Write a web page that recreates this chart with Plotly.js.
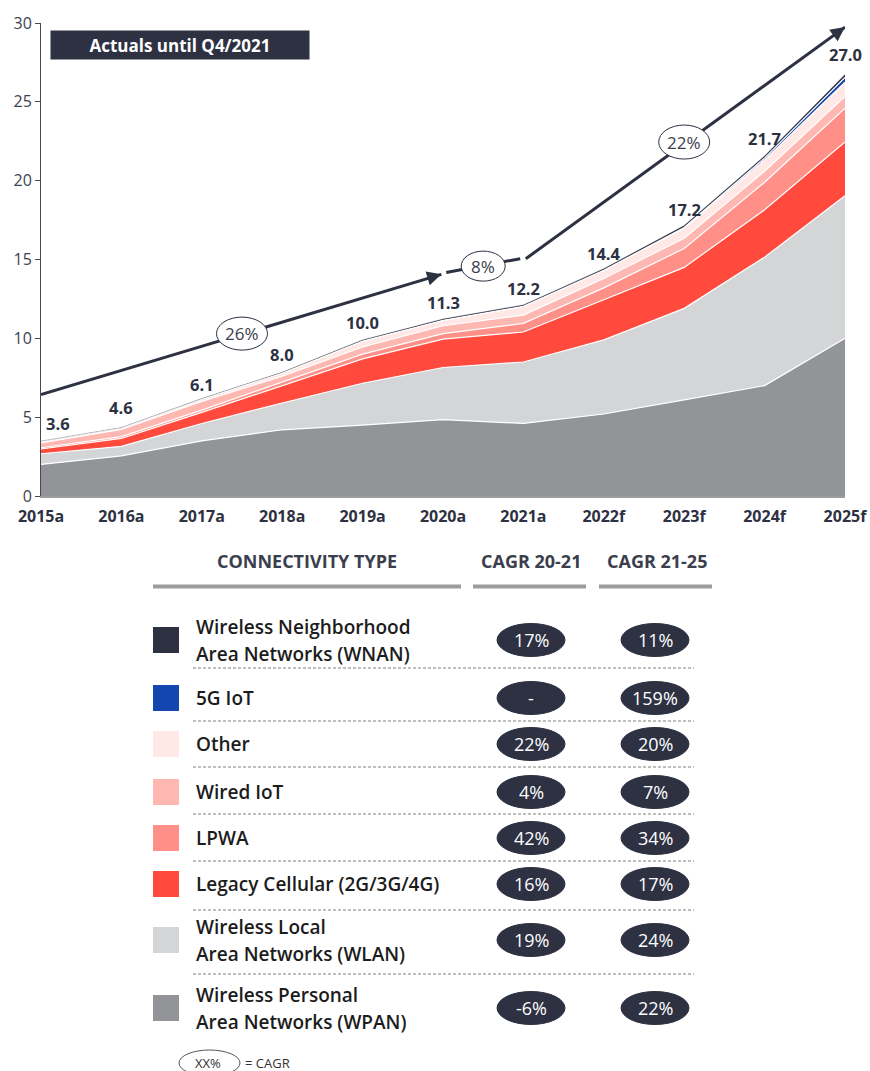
<!DOCTYPE html>
<html>
<head>
<meta charset="utf-8">
<script src="https://cdn.plot.ly/plotly-3.0.1.min.js"></script>
<style>
html,body{margin:0;padding:0;background:#fff;}
#chart{width:870px;height:1071px;}
</style>
</head>
<body>
<div id="chart"></div>
<script>
// ---------- DATA ----------
const years = ['2015a','2016a','2017a','2018a','2019a','2020a','2021a','2022f','2023f','2024f','2025f'];
// stacked layer values (bn connections), bottom to top
const wpan   = [2.0, 2.55, 3.5, 4.2, 4.5, 4.85, 4.6, 5.2, 6.1, 7.0, 10.0];
const wlan   = [0.68, 0.6, 1.1, 1.7, 2.65, 3.3, 3.9, 4.7, 5.8, 8.15, 9.05];
const legacy = [0.3, 0.5, 0.7, 1.1, 1.55, 1.8, 1.9, 2.55, 2.6, 3.0, 3.4];
const lpwa   = [0.08, 0.12, 0.15, 0.2, 0.3, 0.35, 0.55, 0.75, 1.2, 1.75, 2.15];
const wired  = [0.3, 0.45, 0.55, 0.4, 0.45, 0.5, 0.52, 0.6, 0.65, 0.7, 0.75];
const other  = [0.1, 0.1, 0.15, 0.2, 0.37, 0.34, 0.55, 0.5, 0.63, 0.71, 0.9];
const g5     = [0, 0, 0, 0, 0, 0, 0.01, 0.02, 0.05, 0.12, 0.3];
const wnan   = [0.02, 0.02, 0.03, 0.05, 0.08, 0.08, 0.09, 0.1, 0.12, 0.14, 0.18];
const totalLabels = ['3.6','4.6','6.1','8.0','10.0','11.3','12.2','14.4','17.2','21.7','27.0'];

// CAGR trend arrows (x in year index, y in value)
const cagrX1 = [0, 4.98],  cagrY1 = [6.43, 14.06];
const cagrX2 = [5.04, 5.96], cagrY2 = [14.18, 15.05];
const cagrX3 = [6.03, 10], cagrY3 = [15.05, 29.74];
const cagrLabels = ['26%', '8%', '22%'];
const cagrLabelX = [2.5, 5.5, 8.0];
const cagrLabelY = [10.3, 14.58, 22.45];

// table
const typeLabels = [
  ['Wireless Neighborhood','Area Networks (WNAN)'],
  ['5G IoT'],
  ['Other'],
  ['Wired IoT'],
  ['LPWA'],
  ['Legacy Cellular (2G/3G/4G)'],
  ['Wireless Local','Area Networks (WLAN)'],
  ['Wireless Personal','Area Networks (WPAN)']
];
const cagr2021 = ['17%','-','22%','4%','42%','16%','19%','-6%'];
const cagr2125 = ['11%','159%','20%','7%','34%','17%','24%','22%'];
const tableHeaders = ['CONNECTIVITY TYPE', 'CAGR 20-21', 'CAGR 21-25'];

// ---------- STYLE ----------
const DARK = '#2d3142';
const layerColors = {
  wpan:'#939498', wlan:'#d4d5d7', legacy:'#ff4a3d', lpwa:'#ff8f87',
  wired:'#ffb7b1', other:'#ffe8e6', g5:'#1446b0', wnan:DARK
};
const tableColors = [DARK, '#1446b0', '#ffe9e7', '#ffb7b1', '#ff8f87', '#ff4a3d', '#d4d5d7', '#939498'];
const FONT = 'Open Sans, Noto Sans, sans-serif';

const W = 870, H = 1071;
const PL = 41, PR = 845, PT = 23, PB = 496;
const fx = px => (px - PL) / (PR - PL);
const fy = py => (PB - py) / (PB - PT);

const xIdx = years.map((_, i) => i);

function layer(name, y, color) {
  return {
    type: 'scatter', x: xIdx, y: y, name: name, stackgroup: 'one',
    mode: 'lines', line: {color: '#ffffff', width: 1.2, shape: 'linear'},
    fillcolor: color, hoverinfo: 'skip', showlegend: false
  };
}
const traces = [
  layer('WPAN', wpan, layerColors.wpan),
  layer('WLAN', wlan, layerColors.wlan),
  layer('Legacy Cellular', legacy, layerColors.legacy),
  layer('LPWA', lpwa, layerColors.lpwa),
  layer('Wired IoT', wired, layerColors.wired),
  layer('Other', other, layerColors.other),
  layer('5G IoT', g5, layerColors.g5),
  layer('WNAN', wnan, layerColors.wnan)
];
traces[7].line = {color: 'rgba(45,49,66,0.6)', width: 0.5};

[[cagrX1, cagrY1], [cagrX2, cagrY2], [cagrX3, cagrY3]].forEach(([xs, ys]) => {
  traces.push({type:'scatter', x: xs, y: ys, mode:'lines',
    line:{color: DARK, width: 3}, hoverinfo:'skip', showlegend:false, cliponaxis:false});
});

const annotations = [];
const shapes = [];

// arrowheads
[[cagrX1, cagrY1], [cagrX2, cagrY2], [cagrX3, cagrY3]].forEach(([xs, ys]) => {
  const f = 0.04;
  annotations.push({
    x: xs[1], y: ys[1], xref:'x', yref:'y',
    ax: xs[1] - f * (xs[1] - xs[0]), ay: ys[1] - f * (ys[1] - ys[0]),
    axref:'x', ayref:'y', showarrow:true, arrowhead:2, arrowsize:1.1,
    arrowwidth:2.6, arrowcolor: DARK, text:''
  });
});

// CAGR ellipses on chart
const cagrSizes = [[51, 33], [44, 30], [51, 34]];
cagrLabels.forEach((t, i) => {
  shapes.push({type:'circle', xref:'x', yref:'y', xsizemode:'pixel', ysizemode:'pixel',
    xanchor: cagrLabelX[i], yanchor: cagrLabelY[i],
    x0: -cagrSizes[i][0]/2, x1: cagrSizes[i][0]/2, y0: -cagrSizes[i][1]/2, y1: cagrSizes[i][1]/2,
    fillcolor:'#ffffff', line:{color: DARK, width:1}, layer:'above'});
  annotations.push({x: cagrLabelX[i], y: cagrLabelY[i], xref:'x', yref:'y', text: t,
    xanchor:'center', yanchor:'middle',
    showarrow:false, font:{family: FONT, size:17, color:'#3a3d4a'}});
});

// total value labels
totalLabels.forEach((t, i) => {
  annotations.push({x: i, y: parseFloat(t), xref:'x', yref:'y', text: t, showarrow:false,
    xanchor:'center', yanchor:'middle',
    yshift: 15.5, xshift: i === 0 ? 17 : 0,
    font:{family: FONT, size:16.5, color: DARK, weight: 700}});
});

// Actuals box
annotations.push({xref:'paper', yref:'paper', x: fx(50), y: fy(29.5), xanchor:'left', yanchor:'top',
  text:'Actuals until Q4/2021', showarrow:false, bgcolor: DARK, width: 258, height: 28, borderpad: 0,
  align:'center', valign:'middle', font:{family: FONT, size:17, color:'#ffffff', weight:700}});

// ---------- TABLE ----------
const hdrFont = {family: FONT, size:18, color:'#3b3e4c', weight:700};
const hdrX = [307, 531, 657];
tableHeaders.forEach((t, i) => {
  annotations.push({xref:'paper', yref:'paper', x: fx(hdrX[i]), y: fy(561), xanchor:'center', yanchor:'middle',
    text: t, showarrow:false, font: hdrFont});
});
[[153, 461], [473, 586], [599, 712]].forEach(([a, b]) => {
  shapes.push({type:'line', xref:'paper', yref:'paper', x0: fx(a), x1: fx(b), y0: fy(586.5), y1: fy(586.5),
    line:{color:'#9c9c9c', width:4}});
});

const rowY = [640, 698, 744, 792, 838, 884, 940, 1008];
const dashY = [668, 721, 767, 814, 861, 910, 974];
const lblFont = {family: FONT, size:19, color:'#1c1c1c', weight:600};
typeLabels.forEach((lines, i) => {
  const cy = rowY[i];
  shapes.push({type:'rect', xref:'paper', yref:'paper', x0: fx(153), x1: fx(179), y0: fy(cy - 13), y1: fy(cy + 13),
    fillcolor: tableColors[i], line:{width:0}});
  const offs = lines.length === 1 ? [0] : [-13.5, 13.5];
  lines.forEach((ln, k) => {
    annotations.push({xref:'paper', yref:'paper', x: fx(194), y: fy(cy + offs[k]), xanchor:'left', yanchor:'middle',
      text: ln, showarrow:false, font: lblFont});
  });
  [[531, cagr2021[i]], [655, cagr2125[i]]].forEach(([cx, t]) => {
    shapes.push({type:'circle', xref:'paper', yref:'paper', x0: fx(cx - 34), x1: fx(cx + 34), y0: fy(cy - 16.5), y1: fy(cy + 16.5),
      fillcolor: DARK, line:{color: DARK, width:1}});
    annotations.push({xref:'paper', yref:'paper', x: fx(cx), y: fy(cy), xanchor:'center', yanchor:'middle',
      text: t, showarrow:false, font:{family: FONT, size:18, color:'#ffffff'}});
  });
});
dashY.forEach(y => {
  shapes.push({type:'line', xref:'paper', yref:'paper', x0: fx(193), x1: fx(694), y0: fy(y), y1: fy(y),
    line:{color:'#7f7f7f', width:1, dash:'3px,2px'}});
});

// footer key
shapes.push({type:'circle', xref:'paper', yref:'paper', x0: fx(179), x1: fx(240), y0: fy(1050), y1: fy(1076),
  fillcolor:'#ffffff', line:{color:'#555', width:1}});
annotations.push({xref:'paper', yref:'paper', x: fx(208), y: fy(1063), xanchor:'center', yanchor:'middle',
  text:'XX%', showarrow:false, font:{family: FONT, size:13, color:'#333'}});
annotations.push({xref:'paper', yref:'paper', x: fx(243), y: fy(1063), xanchor:'left', yanchor:'middle',
  text:'= CAGR', showarrow:false, font:{family: FONT, size:13, color:'#333'}});

const layout = {
  width: W, height: H,
  margin: {l: PL, r: W - PR, t: PT, b: H - PB, pad: 0},
  paper_bgcolor:'#ffffff', plot_bgcolor:'#ffffff',
  showlegend:false,
  font:{family: FONT},
  xaxis: {
    range:[0, 10], tickvals: xIdx, ticktext: years, showgrid:false, zeroline:false,
    showline:true, linecolor:'#9d9d9d', linewidth:2, ticks:'outside', ticklen:5, tickcolor:'rgba(0,0,0,0)',
    tickfont:{family: FONT, size:16, color: DARK, weight:700}, fixedrange:true
  },
  yaxis: {
    range:[0, 30], tickvals:[0,5,10,15,20,25,30], showgrid:false, zeroline:false,
    showline:true, linecolor:'#4a4a4a', linewidth:1, ticks:'outside', ticklen:5, tickcolor:'#4a4a4a',
    tickfont:{family: FONT, size:16, color:'#3d3f4e'}, fixedrange:true
  },
  shapes: shapes,
  annotations: annotations
};

Plotly.newPlot('chart', traces, layout, {displayModeBar:false, staticPlot:true});
</script>
</body>
</html>
